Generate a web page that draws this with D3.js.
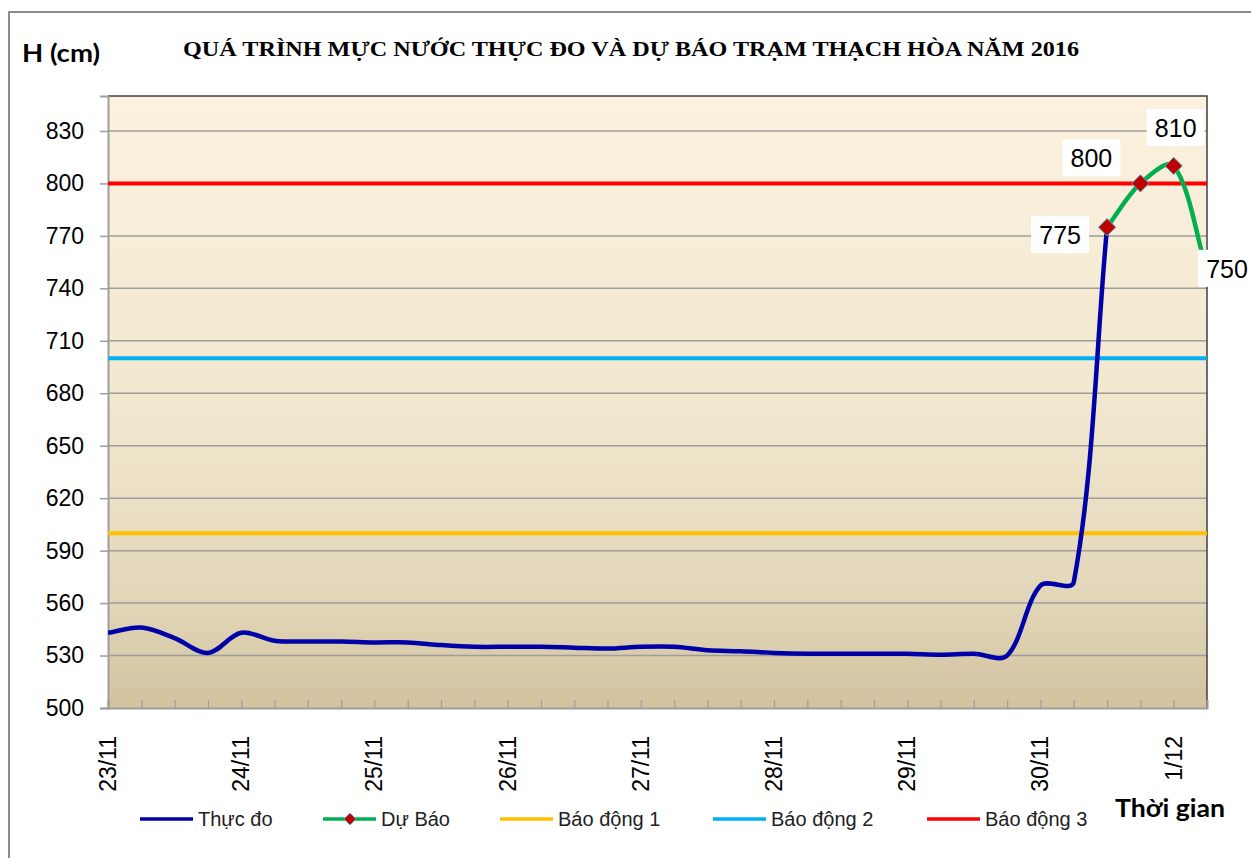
<!DOCTYPE html>
<html>
<head>
<meta charset="utf-8">
<script src="https://cdn.jsdelivr.net/npm/d3@7"></script>
<style>
  body { margin: 0; background: #fff; }
</style>
</head>
<body>
<svg width="1251" height="858" font-family="Liberation Sans, Arial, sans-serif"></svg>
<script>
// Data
const dayLabels = ["23/11", "24/11", "25/11", "26/11", "27/11", "28/11", "29/11", "30/11", "1/12"];
const stepsPerDay = 4; // 6-hourly observations
const slotCount = 34;

// measured water level (cm), one value per 6h slot
const thucDo = [543, 546, 540, 531.5, 543, 538.5, 538, 538, 537.5, 537.5, 536, 535,
  535, 535, 534.5, 534, 535, 535, 533, 532.5, 531.5, 531, 531, 531, 531, 530.5,
  531, 530, 570, 572, 775];
// forecast (cm)
const duBao = [null, null, null, null, null, null, null, null, null, null, null, null,
  null, null, null, null, null, null, null, null, null, null, null, null, null, null,
  null, null, null, null, 775, 800, 810, 750];

const alarmNames = ["Báo động 1", "Báo động 2", "Báo động 3"];
const alarmLevels = [600, 700, 800];
const alarmColors = ["#ffc000", "#00b0f0", "#ff0000"];

const yTicks = [500, 530, 560, 590, 620, 650, 680, 710, 740, 770, 800, 830];

// The svg
const svg = d3.select("svg");
const plot = { left: 108, right: 1207, top: 96, bottom: 708 };

const x = d3.scaleLinear().domain([0, slotCount - 1]).range([plot.left, plot.right]);
const y = d3.scaleLinear().domain([500, 850]).range([plot.bottom, plot.top]);

// Excel-style smoothed line: bezier control points scaled by segment lengths
function smoothPath(values) {
  const pts = values.map((v, i) => v == null ? null : [x(i), y(v)]).filter(p => p);
  const dist = (a, b) => Math.hypot(b[0] - a[0], b[1] - a[1]);
  const p = d3.path();
  p.moveTo(pts[0][0], pts[0][1]);
  for (let i = 0; i < pts.length - 1; i++) {
    const a = pts[i], b = pts[i + 1];
    const prev = pts[i - 1] || a, next = pts[i + 2] || b;
    const dab = dist(a, b);
    const ta = [b[0] - prev[0], b[1] - prev[1]];
    const tb = [next[0] - a[0], next[1] - a[1]];
    const ka = dab / (dist(prev, a) + dab) / 3;
    const kb = dab / (dab + dist(b, next)) / 3;
    p.bezierCurveTo(a[0] + ta[0] * ka, a[1] + ta[1] * ka,
      b[0] - tb[0] * kb, b[1] - tb[1] * kb, b[0], b[1]);
  }
  return p.toString();
}

// outer chart frame
svg.append("rect")
  .attr("x", 9).attr("y", 12)
  .attr("width", 1260).attr("height", 900)
  .attr("fill", "#fff")
  .attr("stroke", "#8c8c8c")
  .attr("stroke-width", 2);

// plot background gradient
const defs = svg.append("defs");
const grad = defs.append("linearGradient")
  .attr("id", "bg").attr("x1", 0).attr("y1", 0).attr("x2", 0).attr("y2", 1);
grad.append("stop").attr("offset", "0%").attr("stop-color", "#fcf1de");
grad.append("stop").attr("offset", "50%").attr("stop-color", "#f2e8d0");
grad.append("stop").attr("offset", "83%").attr("stop-color", "#e1d6b8");
grad.append("stop").attr("offset", "100%").attr("stop-color", "#d2c29e");

defs.append("clipPath").attr("id", "clip")
  .append("rect")
  .attr("x", plot.left).attr("y", plot.top)
  .attr("width", plot.right - plot.left).attr("height", plot.bottom - plot.top);

svg.append("rect")
  .attr("x", plot.left).attr("y", plot.top)
  .attr("width", plot.right - plot.left).attr("height", plot.bottom - plot.top)
  .attr("fill", "url(#bg)");

// gridlines
svg.append("g")
  .selectAll("line")
  .data(yTicks.slice(1))
  .join("line")
  .attr("x1", plot.left).attr("x2", plot.right)
  .attr("y1", d => y(d)).attr("y2", d => y(d))
  .attr("stroke", "#9d9d9d")
  .attr("stroke-width", 1.5);

// plot border (top and right dark)
svg.append("path")
  .attr("d", `M${plot.left},${plot.top}H${plot.right}V${plot.bottom}`)
  .attr("fill", "none")
  .attr("stroke", "#404040")
  .attr("stroke-width", 1.5);

// y axis
const yAxis = svg.append("g")
  .attr("transform", `translate(${plot.left},0)`)
  .call(d3.axisLeft(y).tickValues(yTicks).tickSize(8).tickPadding(16));
yAxis.select(".domain").attr("stroke", "#9d9d9d").attr("stroke-width", 2);
yAxis.selectAll(".tick line").attr("stroke", "#9d9d9d").attr("stroke-width", 1.5);
yAxis.selectAll(".tick text")
  .attr("font-size", 23)
  .attr("font-family", "Liberation Sans, Arial, sans-serif")
  .attr("fill", "#000");

// x axis: ticks point up into the plot
const xAxis = svg.append("g")
  .attr("transform", `translate(0,${plot.bottom})`)
  .call(d3.axisBottom(x).tickValues(d3.range(slotCount)).tickSize(-8).tickFormat(""));
xAxis.select(".domain").attr("stroke", "#9d9d9d").attr("stroke-width", 2);
xAxis.selectAll(".tick line").attr("stroke", "#9d9d9d").attr("stroke-width", 1.2);

// day labels, rotated
svg.append("g")
  .selectAll("text")
  .data(dayLabels)
  .join("text")
  .attr("transform", (d, i) => `translate(${x(i * stepsPerDay) + 8},736) rotate(-90)`)
  .attr("text-anchor", "end")
  .attr("font-size", 23)
  .attr("fill", "#000")
  .text(d => d);

// alarm lines
svg.append("g")
  .selectAll("line")
  .data(alarmLevels)
  .join("line")
  .attr("x1", plot.left).attr("x2", plot.right)
  .attr("y1", d => y(d)).attr("y2", d => y(d))
  .attr("stroke", (d, i) => alarmColors[i])
  .attr("stroke-width", 4);

const series = svg.append("g").attr("clip-path", "url(#clip)");

series.append("path")
  .attr("d", smoothPath(thucDo))
  .attr("fill", "none")
  .attr("stroke", "#0000a8")
  .attr("stroke-width", 4.5)
  .attr("stroke-linejoin", "round");

series.append("path")
  .attr("d", smoothPath(duBao))
  .attr("fill", "none")
  .attr("stroke", "#00b050")
  .attr("stroke-width", 4.5);

// forecast markers
const fcPoints = duBao.map((v, i) => ({ i, v })).filter(d => d.v != null);
const diamond = d3.symbol().type(d3.symbolDiamond2).size(190);
svg.append("g")
  .selectAll("path")
  .data(fcPoints.filter(d => d.i < slotCount - 1))
  .join("path")
  .attr("transform", d => `translate(${x(d.i)},${y(d.v)})`)
  .attr("d", diamond)
  .attr("fill", "#c00000")
  .attr("stroke", "#4bacc6")
  .attr("stroke-width", 1);

// data labels (white boxes); offsets relative to each point
const labelOffsets = [[-47, 8], [-49, -25], [2, -38], [20, -2]];
const lbl = svg.append("g")
  .selectAll("g")
  .data(fcPoints)
  .join("g")
  .attr("transform", (d, k) => `translate(${x(d.i) + labelOffsets[k][0]},${y(d.v) + labelOffsets[k][1]})`);
lbl.append("rect")
  .attr("x", -29).attr("y", -19)
  .attr("width", 58).attr("height", 37)
  .attr("fill", "#fff");
lbl.append("text")
  .attr("text-anchor", "middle")
  .attr("dy", "0.36em")
  .attr("font-size", 25)
  .attr("fill", "#000")
  .text(d => d.v);

// titles
svg.append("text")
  .attr("x", 183).attr("y", 56)
  .style("font-family", "'Liberation Serif', 'Times New Roman', serif")
  .attr("font-weight", "bold")
  .attr("font-size", 21)
  .attr("textLength", 896)
  .attr("lengthAdjust", "spacingAndGlyphs")
  .text("QUÁ TRÌNH MỰC NƯỚC THỰC ĐO VÀ DỰ BÁO TRẠM THẠCH HÒA NĂM 2016");

svg.append("text")
  .attr("x", 22).attr("y", 62)
  .style("font-family", "Lato, 'Open Sans', sans-serif")
  .attr("font-weight", "bold")
  .attr("font-size", 25)
  .attr("textLength", 78)
  .attr("lengthAdjust", "spacingAndGlyphs")
  .text("H (cm)");

svg.append("text")
  .attr("x", 1115).attr("y", 817)
  .style("font-family", "Lato, 'Open Sans', sans-serif")
  .attr("font-weight", "bold")
  .attr("font-size", 25)
  .attr("textLength", 110)
  .attr("lengthAdjust", "spacingAndGlyphs")
  .text("Thời gian");

// legend
const legendNames = ["Thực đo", "Dự Báo"].concat(alarmNames);
const legendColors = ["#0000a8", "#00b050"].concat(alarmColors);
const legendX = [140, 323, 500, 713, 927];
const legendY = 819;

const legend = svg.append("g")
  .selectAll("g")
  .data(legendNames)
  .join("g")
  .attr("transform", (d, i) => `translate(${legendX[i]},${legendY})`);

legend.append("line")
  .attr("x1", 0).attr("x2", 53)
  .attr("stroke", (d, i) => legendColors[i])
  .attr("stroke-width", 3.5);

legend.filter((d, i) => i === 1)
  .append("path")
  .attr("transform", "translate(27,0)")
  .attr("d", d3.symbol().type(d3.symbolDiamond2).size(90))
  .attr("fill", "#c00000")
  .attr("stroke", "#4bacc6")
  .attr("stroke-width", 1);

legend.append("text")
  .attr("x", 58)
  .attr("dy", "0.35em")
  .attr("font-size", 20)
  .attr("fill", "#222")
  .text(d => d);
</script>
</body>
</html>
